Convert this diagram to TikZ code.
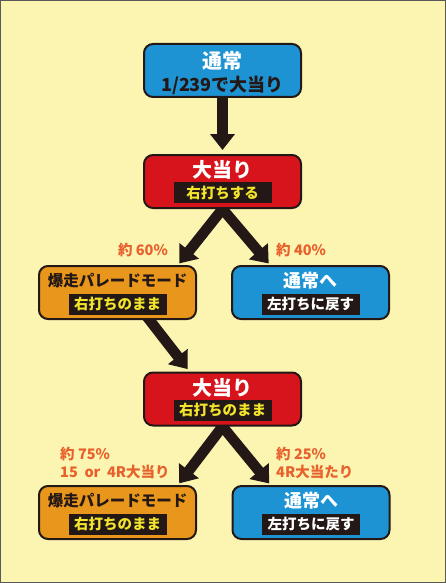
\documentclass[tikz,border=0pt]{standalone}
\usepackage{fontspec}
\setmainfont{Noto Sans CJK JP}
\usetikzlibrary{arrows.meta}
\pgfdeclarelayer{background}
\pgfsetlayers{background,main}

\definecolor{paper}{HTML}{FBF5B1}
\definecolor{ink}{HTML}{231815}
\definecolor{normalblue}{HTML}{1E93D3}
\definecolor{hitred}{HTML}{D7141C}
\definecolor{rushorange}{HTML}{E8961C}
\definecolor{tagyellow}{HTML}{F2E52C}
\definecolor{rateorange}{HTML}{E8602C}

\begin{document}
\begin{tikzpicture}[x=1pt,y=-1pt]
        % flow of the bonus modes
        \tikzstyle{box} = [draw=ink,line width=2pt,rounded corners=9pt,minimum width=157pt,minimum height=53pt,inner sep=0pt];
        \tikzstyle{title} = [font=\fontsize{20}{20}\selectfont\bfseries,inner sep=0pt];
        \tikzstyle{tag} = [fill=ink,text=tagyellow,minimum width=98pt,minimum height=21pt,inner sep=0pt,font=\fontsize{14.5}{14.5}\selectfont\bfseries];
        \tikzstyle{rate} = [text=rateorange,font=\fontsize{14.5}{18}\selectfont\bfseries,inner sep=0pt,align=left];
        \tikzstyle{flow} = [-{Triangle[width=24pt,length=16pt]},line width=10.5pt,draw=ink,shorten <=-8pt];

        \useasboundingbox (0,0) rectangle (446,583);

        \node[box,fill=normalblue] (normal) at (222.5,70.5) {};
        \node[title,text=white] (normal_title) at (222.5,61) {通常};
        \node[title,text=ink,font=\fontsize{18}{18}\selectfont\bfseries] (normal_odds) at (222.5,85) {1/239で大当り};

        \node[box,fill=hitred] (hit1) at (222.5,181.5) {};
        \node[title,text=white] (hit1_title) at (222.5,170) {大当り};
        \node[tag] (hit1_tag) at (222.5,192.5) {右打ちする};

        \node[box,fill=rushorange] (rush1) at (117.5,292.5) {};
        \node[title,text=ink,font=\fontsize{15.5}{15.5}\selectfont\bfseries] (rush1_title) at (117.5,281) {爆走パレードモード};
        \node[tag] (rush1_tag) at (117.5,304) {右打ちのまま};

        \node[box,fill=normalblue] (back1) at (310.5,292.5) {};
        \node[title,text=white,font=\fontsize{18}{18}\selectfont\bfseries] (back1_title) at (310.5,281) {通常へ};
        \node[tag,text=white] (back1_tag) at (310.5,304) {左打ちに戻す};

        \node[box,fill=hitred] (hit2) at (222.5,399) {};
        \node[title,text=white] (hit2_title) at (222.5,388) {大当り};
        \node[tag] (hit2_tag) at (222.5,410) {右打ちのまま};

        \node[box,fill=rushorange] (rush2) at (117.5,512.5) {};
        \node[title,text=ink,font=\fontsize{15.5}{15.5}\selectfont\bfseries] (rush2_title) at (117.5,501) {爆走パレードモード};
        \node[tag] (rush2_tag) at (117.5,524) {右打ちのまま};

        \node[box,fill=normalblue] (back2) at (311,512.5) {};
        \node[title,text=white,font=\fontsize{18}{18}\selectfont\bfseries] (back2_title) at (311,501) {通常へ};
        \node[tag,text=white] (back2_tag) at (311,524) {左打ちに戻す};

        \node[rate,anchor=east] (rate60) at (168,250) {約 60\%};
        \node[rate,anchor=west] (rate40) at (276,250) {約 40\%};
        \node[rate,anchor=west] (rate75) at (60,463) {約 75\%\\15 \ or \ 4R大当り};
        \node[rate,anchor=west] (rate25) at (276,463) {約 25\%\\4R大当たり};

        \begin{pgfonlayer}{background}
        \fill[paper] (0,0) rectangle (446,583);
        \draw[gray!70!black,line width=1pt] (0.5,0.5) rectangle (445.5,582.5);
        \draw[flow,shorten <=0pt,shorten >=4pt] (normal.center) -- (hit1.north);
        \draw[flow,shorten >=2pt] (hit1.south) -- ([xshift=-19pt]rush1.north east);
        \draw[flow,shorten >=2pt] (hit1.south) -- ([xshift=39pt]back1.north west);
        \draw[flow,shorten >=3pt] ([xshift=32pt]rush1.south) -- ([xshift=-33pt]hit2.north);
        \draw[flow,shorten >=2pt] (hit2.south) -- ([xshift=-19pt]rush2.north east);
        \draw[flow,shorten >=2pt] (hit2.south) -- ([xshift=39pt]back2.north west);
        \end{pgfonlayer}
\end{tikzpicture}
\end{document}
